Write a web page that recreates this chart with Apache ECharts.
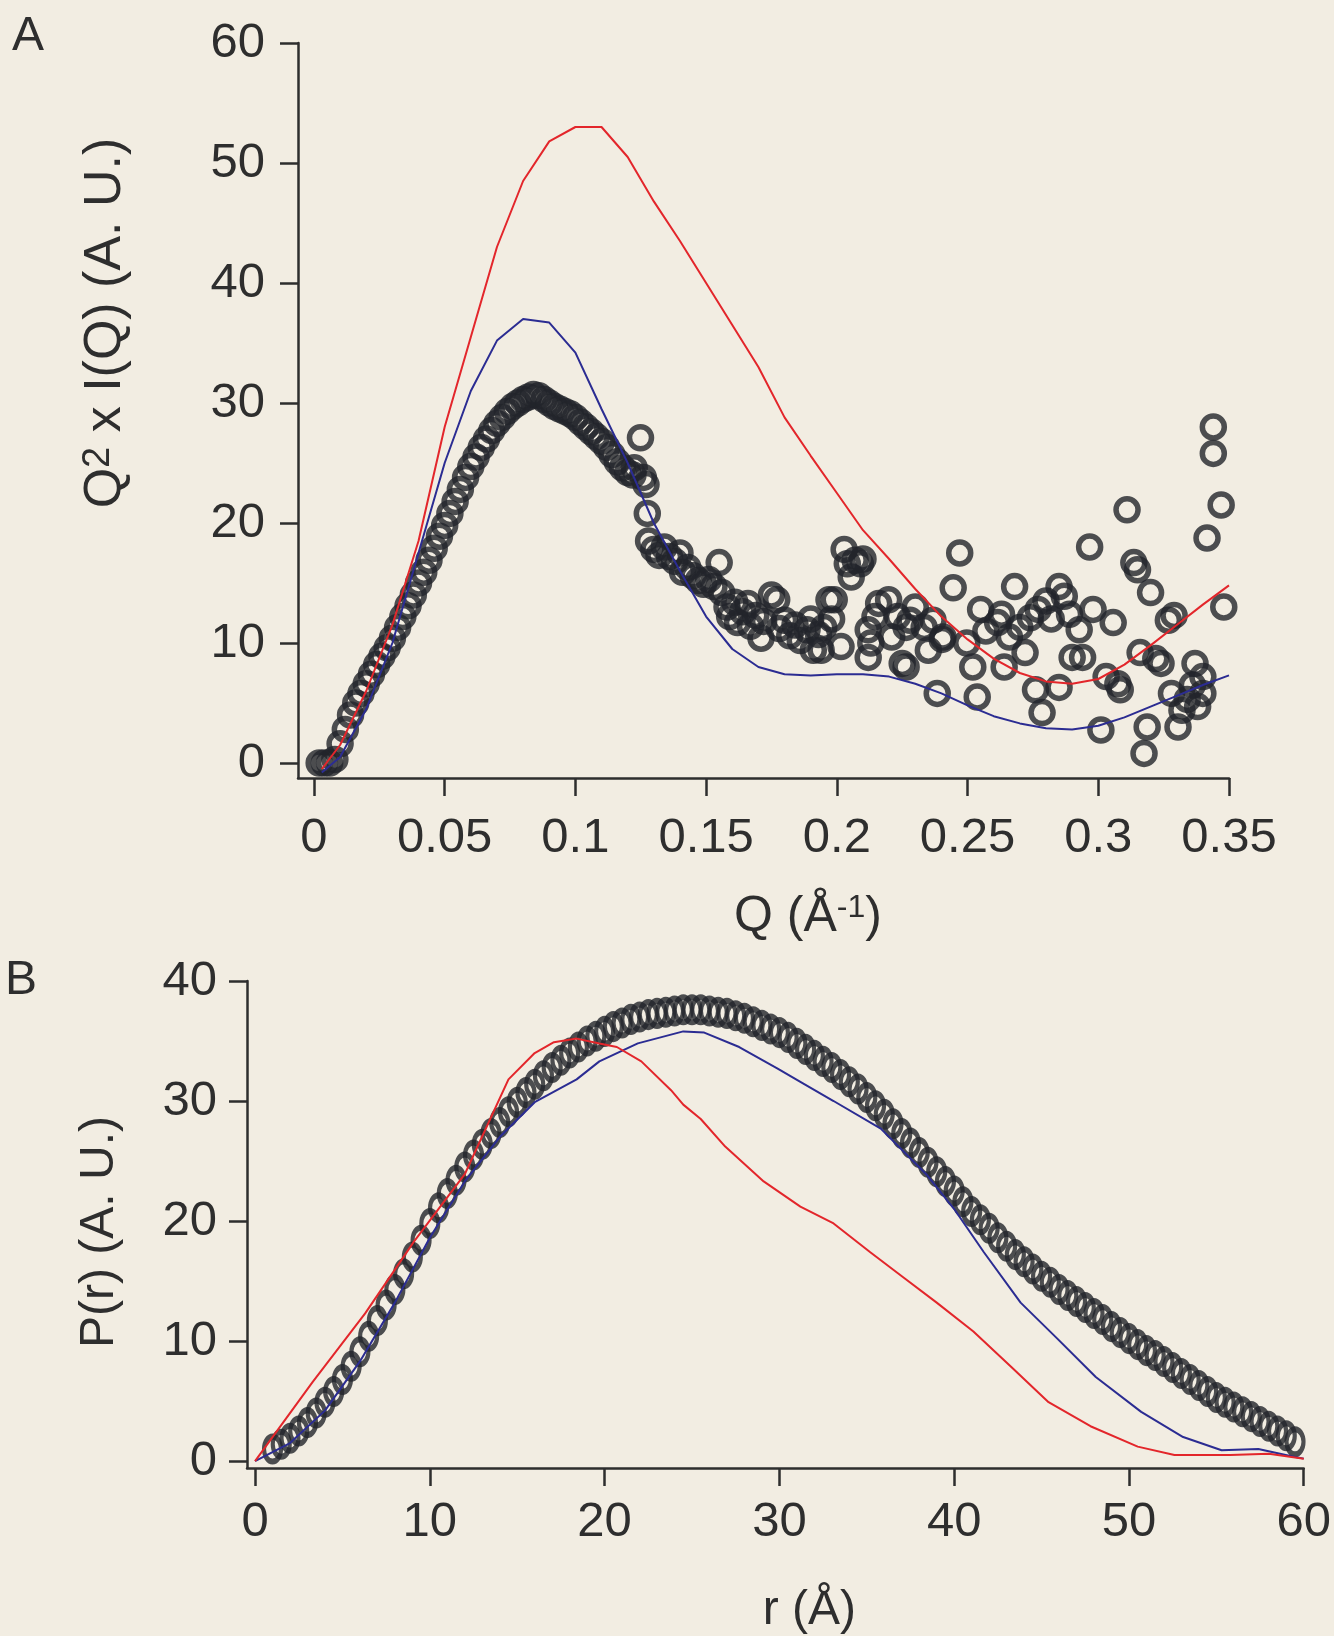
<!DOCTYPE html>
<html>
<head>
<meta charset="utf-8">
<script src="https://cdn.jsdelivr.net/npm/echarts@6/dist/echarts.min.js"></script>
<style>
    html, body { margin: 0; padding: 0; background: #f2ede2; }
    #chart { width: 1334px; height: 1636px; }
</style>
</head>
<body>
<div id="chart"></div>
<script>
// panel A: Kratky plot, Q (1/A) vs Q^2 x I(Q)
const aDataQ = [
    0.002, 0.004, 0.006, 0.008, 0.010, 0.012, 0.014, 0.016, 0.018, 0.020,
    0.022, 0.024, 0.026, 0.028, 0.030, 0.032, 0.034, 0.036, 0.038, 0.040,
    0.042, 0.044, 0.046, 0.048, 0.050, 0.052, 0.054, 0.056, 0.058, 0.060,
    0.062, 0.064, 0.066, 0.068, 0.070, 0.072, 0.074, 0.076, 0.078, 0.080,
    0.082, 0.084, 0.086, 0.088, 0.090, 0.092, 0.094, 0.096, 0.098, 0.100,
    0.102, 0.104, 0.106, 0.108, 0.110, 0.112, 0.114, 0.116, 0.118, 0.120,
    0.122
]
const aDataI = [
    0, 0, 0, 0.3, 1.6, 2.8, 4.0, 5.0, 5.8, 6.6,
    7.4, 8.2, 8.9, 9.6, 10.4, 11.3, 12.2, 13.1, 14.0, 15.0,
    15.9, 16.9, 17.9, 18.9, 19.8, 20.8, 21.8, 22.8, 23.8, 24.7,
    25.5, 26.3, 27.0, 27.7, 28.3, 28.8, 29.3, 29.7, 30.0, 30.3,
    30.5, 30.7, 30.6, 30.3, 30.0, 29.7, 29.5, 29.3, 29.1, 28.8,
    28.4, 28.0, 27.6, 27.2, 26.8, 26.3, 25.7, 25.1, 24.6, 24.2,
    24.0
]
// the noisy tail of the data, read point by point
const aTail = [
    [0.1249, 27.1], [0.1225, 24.6], [0.126, 23.8], [0.127, 23.2], [0.1275, 20.8], [0.128, 18.5],
    [0.130, 17.8], [0.132, 17.3], [0.134, 18.0], [0.136, 17.2], [0.138, 16.8], [0.140, 17.5],
    [0.141, 15.9], [0.143, 16.3], [0.145, 15.6], [0.147, 15.2], [0.149, 14.9], [0.151, 15.3],
    [0.153, 14.7], [0.155, 16.7], [0.156, 14.2], [0.158, 13.0], [0.159, 12.2], [0.161, 13.4],
    [0.162, 11.7], [0.164, 12.6], [0.166, 13.3], [0.167, 11.4], [0.169, 12.3], [0.171, 10.4],
    [0.172, 11.8], [0.175, 14.0], [0.177, 13.6], [0.178, 11.2], [0.180, 11.9], [0.182, 10.6],
    [0.184, 11.5], [0.186, 10.2], [0.1886, 11.1], [0.190, 12.0], [0.191, 9.4], [0.193, 10.7],
    [0.194, 9.4], [0.195, 11.3], [0.197, 13.6], [0.198, 12.0], [0.199, 13.6], [0.2016, 9.7],
    [0.2028, 17.8], [0.204, 16.6], [0.2055, 15.5], [0.207, 16.9], [0.209, 16.6], [0.210, 17.0],
    [0.212, 11.1], [0.212, 8.8], [0.213, 10.0], [0.2146, 12.2], [0.216, 13.3], [0.2198, 13.6],
    [0.221, 10.5], [0.2232, 12.2], [0.225, 8.3], [0.2265, 11.3], [0.2265, 8.0], [0.228, 11.9],
    [0.230, 13.0], [0.2334, 11.3], [0.235, 9.4], [0.2368, 11.9], [0.2384, 5.8], [0.2403, 10.3],
    [0.2406, 10.5], [0.2445, 14.6], [0.247, 17.5], [0.2497, 10.0], [0.252, 8.0], [0.2537, 5.5],
    [0.255, 12.8], [0.257, 11.0], [0.2615, 11.7], [0.263, 12.4], [0.264, 8.0], [0.266, 10.5],
    [0.268, 14.7], [0.270, 11.3], [0.272, 9.2], [0.274, 12.1], [0.276, 6.1], [0.277, 12.8],
    [0.2785, 4.2], [0.280, 13.5], [0.282, 12.0], [0.285, 14.7], [0.285, 6.3], [0.287, 13.9],
    [0.289, 12.4], [0.290, 8.8], [0.2927, 11.1], [0.294, 8.8], [0.2967, 18.0], [0.298, 12.8],
    [0.301, 2.75], [0.303, 7.2], [0.3057, 11.7], [0.3075, 6.6], [0.3084, 6.1], [0.311, 21.1],
    [0.3136, 16.7], [0.315, 16.1], [0.316, 9.2], [0.3175, 0.8], [0.3187, 3.0], [0.320, 14.2],
    [0.322, 8.7], [0.324, 8.3], [0.3268, 11.9], [0.328, 5.8], [0.329, 12.3], [0.3305, 3.0],
    [0.332, 4.4], [0.334, 5.3], [0.336, 6.5], [0.337, 8.3], [0.338, 4.7], [0.340, 7.2],
    [0.340, 5.8], [0.3416, 18.75], [0.344, 28.0], [0.344, 25.8], [0.347, 21.5], [0.348, 13.0]
]
const aFitQ = [
    0.003, 0.01, 0.02, 0.03, 0.04, 0.05, 0.06, 0.07, 0.08, 0.09,
    0.10, 0.11, 0.12, 0.13, 0.14, 0.15, 0.16, 0.17, 0.18, 0.19,
    0.20, 0.21, 0.22, 0.23, 0.24, 0.25, 0.26, 0.27, 0.28, 0.29,
    0.30, 0.31, 0.32, 0.33, 0.34, 0.35
]
const aRedI = [
    -0.5, 1.5, 6, 11.5, 18.5, 28, 35.5, 43, 48.5, 51.8,
    53, 53, 50.5, 46.8, 43.5, 40, 36.5, 33, 28.8, 25.6,
    22.5, 19.4, 17, 14.5, 12.2, 10.3, 8.7, 7.5, 6.8, 6.6,
    7, 8.2, 9.8, 11.5, 13.2, 14.8
]
const aBlueI = [
    -0.8, 0.5, 4.5, 10, 17.5, 25, 31, 35.2, 37, 36.7,
    34.2, 29.5, 25, 20, 16, 12.2, 9.5, 8, 7.4, 7.3,
    7.4, 7.4, 7.2, 6.6, 5.8, 4.8, 3.9, 3.3, 2.9, 2.8,
    3.1, 3.8, 4.7, 5.6, 6.5, 7.3
]
const aTicksX = [0, 0.05, 0.1, 0.15, 0.2, 0.25, 0.3, 0.35]
const aTicksY = [0, 10, 20, 30, 40, 50, 60]

// panel B: pair distance distribution, r (A) vs P(r)
const bDataR = [
    1, 1.5, 2, 2.5, 3, 3.5, 4, 4.5, 5, 5.5, 6, 6.5, 7, 7.5, 8, 8.5, 9, 9.5,
    10, 10.5, 11, 11.5, 12, 12.5, 13, 13.5, 14, 14.5, 15, 15.5, 16, 16.5, 17, 17.5, 18, 18.5, 19, 19.5,
    20, 20.5, 21, 21.5, 22, 22.5, 23, 23.5, 24, 24.5, 25, 25.5, 26, 26.5, 27, 27.5, 28, 28.5, 29, 29.5,
    30, 30.5, 31, 31.5, 32, 32.5, 33, 33.5, 34, 34.5, 35, 35.5, 36, 36.5, 37, 37.5, 38, 38.5, 39, 39.5,
    40, 40.5, 41, 41.5, 42, 42.5, 43, 43.5, 44, 44.5, 45, 45.5, 46, 46.5, 47, 47.5, 48, 48.5, 49, 49.5,
    50, 50.5, 51, 51.5, 52, 52.5, 53, 53.5, 54, 54.5, 55, 55.5, 56, 56.5, 57, 57.5, 58, 58.5, 59, 59.5
]
const bDataP = [
    1.0, 1.4, 1.9, 2.5, 3.2, 4.0, 4.9, 5.8, 6.8, 7.9, 9.1, 10.4, 11.7, 13.0, 14.3, 15.6, 17.0, 18.4,
    19.8, 21.1, 22.3, 23.4, 24.5, 25.5, 26.4, 27.3, 28.2, 29.1, 29.9, 30.7, 31.4, 32.1, 32.8, 33.4, 34.0, 34.5, 35.0, 35.4,
    35.8, 36.2, 36.5, 36.8, 37.0, 37.2, 37.3, 37.4, 37.5, 37.6, 37.6, 37.6, 37.5, 37.4, 37.3, 37.1, 36.9, 36.6, 36.3, 36.0,
    35.7, 35.3, 34.8, 34.3, 33.8, 33.3, 32.8, 32.2, 31.6, 31.0, 30.3, 29.6, 28.9, 28.1, 27.3, 26.5, 25.7, 24.9, 24.1, 23.3,
    22.5, 21.6, 20.8, 20.1, 19.4, 18.6, 17.9, 17.2, 16.6, 16.0, 15.4, 14.9, 14.3, 13.8, 13.3, 12.8, 12.3, 11.8, 11.2, 10.7,
    10.2, 9.7, 9.2, 8.8, 8.3, 7.8, 7.3, 6.8, 6.3, 5.8, 5.3, 4.9, 4.5, 4.1, 3.7, 3.3, 2.9, 2.5, 2.1, 1.6
]
const bRed = [
    [0, 0], [3.3, 6.6], [6.3, 12.3], [9.1, 18.3], [12, 23.9], [14.5, 31.8], [16, 34.0], [17.1, 34.9],
    [18.4, 35.2], [19.7, 34.8], [20.7, 34.5], [22.1, 33.3], [23.8, 30.9], [24.5, 29.7], [25.5, 28.5],
    [26.9, 26.2], [29.1, 23.3], [31.2, 21.2], [33.1, 19.8], [35.2, 17.4], [37.1, 15.3], [39, 13.2],
    [41.1, 10.8], [43.3, 7.8], [45.4, 4.9], [47.8, 2.9], [50.5, 1.2], [52.6, 0.5], [55.8, 0.5],
    [58, 0.6], [60, 0.2]
]
const bBlue = [
    [0, 0], [2, 1.5], [4, 4.2], [6, 8.3], [8, 13.2], [10, 18.6], [12, 23.3], [14, 27.0], [16, 29.9],
    [18.4, 31.8], [19.7, 33.3], [21.9, 34.8], [24.5, 35.8], [25.7, 35.7], [27.7, 34.5], [29.9, 32.7],
    [31.2, 31.6], [33.1, 30.0], [35.8, 27.7], [38.4, 23.9], [40, 21.0], [41.7, 17.4], [43.8, 13.2],
    [45.9, 10.2], [48.1, 7.0], [50.7, 4.1], [53.1, 2.0], [55.3, 0.9], [57.4, 1.0], [59.3, 0.4], [60, 0.2]
]
const bTicksX = [0, 10, 20, 30, 40, 50, 60]
const bTicksY = [0, 10, 20, 30, 40]

const FONT = '"Liberation Sans", Arial, sans-serif'
const INK = '#2e2e2e'
const RING = '#22242b'
const RED = '#e3262b'
const BLUE = '#2b2c92'

const zip = (xs, ys) => xs.map((x, i) => [x, ys[i]])

const axisBase = (ticks, margin) => {
    return {
        type: 'value',
        axisLine: { show: true, onZero: false, lineStyle: { color: INK, width: 2.5 } },
        axisTick: { show: true, inside: false, length: 18, customValues: ticks, lineStyle: { color: INK, width: 2.5 } },
        axisLabel: {
            customValues: ticks, margin: margin, fontSize: 49, color: INK, fontFamily: FONT,
            formatter: v => String(v)
        },
        splitLine: { show: false },
        nameLocation: 'middle'
    }
}

const nameStyle = (padding, size, supSize) => {
    return {
        fontSize: size, color: INK, fontFamily: FONT, padding: padding,
        rich: {
            n: { fontSize: size, color: INK, fontFamily: FONT, lineHeight: size },
            s: { fontSize: supSize, color: INK, fontFamily: FONT, lineHeight: size, verticalAlign: 'top', padding: [0, 0, 16, 0] }
        }
    }
}

const chart = echarts.init(document.getElementById('chart'))

chart.setOption({
    backgroundColor: '#f2ede2',
    animation: false,
    title: [
        { text: 'A', left: 12, top: 13, padding: 0, textStyle: { fontSize: 48, fontWeight: 'normal', color: INK, fontFamily: FONT } },
        { text: 'B', left: 5, top: 957, padding: 0, textStyle: { fontSize: 48, fontWeight: 'normal', color: INK, fontFamily: FONT } }
    ],
    grid: [
        { left: 298, top: 43, width: 931, height: 735 },
        { left: 247, top: 981, width: 1058, height: 489 }
    ],
    xAxis: [
        {
            ...axisBase(aTicksX, 36), gridIndex: 0, min: -0.0061, max: 0.35,
            name: '{n|Q (Å}{s|-1}{n|)}', nameGap: 114, nameTextStyle: nameStyle([0, 0, 0, 89], 50, 32)
        },
        {
            ...axisBase(bTicksX, 30), gridIndex: 1, min: -0.46, max: 60,
            name: '{n|r (Å)}', nameGap: 119, nameTextStyle: nameStyle([0, 0, 0, 68], 48, 30)
        }
    ],
    yAxis: [
        {
            ...axisBase(aTicksY, 33), gridIndex: 0, min: -1.25, max: 60,
            name: '{n|Q}{s|2}{n| x I(Q) (A. U.)}', nameRotate: 90, nameGap: 166,
            nameTextStyle: nameStyle([0, 0, 0, 175], 52, 38)
        },
        {
            ...axisBase(bTicksY, 30), gridIndex: 1, min: -0.58, max: 40,
            name: '{n|P(r) (A. U.)}', nameRotate: 90, nameGap: 123,
            nameTextStyle: nameStyle([0, 15, 0, 0], 48, 30)
        }
    ],
    series: [
        {
            type: 'scatter', xAxisIndex: 0, yAxisIndex: 0, silent: true,
            data: zip(aDataQ, aDataI).concat(aTail),
            symbol: 'circle', symbolSize: 22,
            itemStyle: { color: 'rgba(0,0,0,0)', borderColor: RING, borderWidth: 5.5 }
        },
        {
            type: 'line', xAxisIndex: 0, yAxisIndex: 0, silent: true, symbol: 'none',
            data: zip(aFitQ, aBlueI), lineStyle: { color: BLUE, width: 2 }
        },
        {
            type: 'line', xAxisIndex: 0, yAxisIndex: 0, silent: true, symbol: 'none',
            data: zip(aFitQ, aRedI), lineStyle: { color: RED, width: 2 }
        },
        {
            type: 'line', xAxisIndex: 1, yAxisIndex: 1, silent: true, symbol: 'none',
            data: bBlue, lineStyle: { color: BLUE, width: 2 }
        },
        {
            type: 'scatter', xAxisIndex: 1, yAxisIndex: 1, silent: true,
            data: zip(bDataR, bDataP),
            symbol: 'path://M0,15A11,15,0,1,1,22,15A11,15,0,1,1,0,15Z', symbolSize: [17, 25],
            itemStyle: { color: 'rgba(0,0,0,0)', borderColor: RING, borderWidth: 5 }
        },
        {
            type: 'line', xAxisIndex: 1, yAxisIndex: 1, silent: true, symbol: 'none',
            data: bRed, lineStyle: { color: RED, width: 2 }
        }
    ]
})
</script>
</body>
</html>
